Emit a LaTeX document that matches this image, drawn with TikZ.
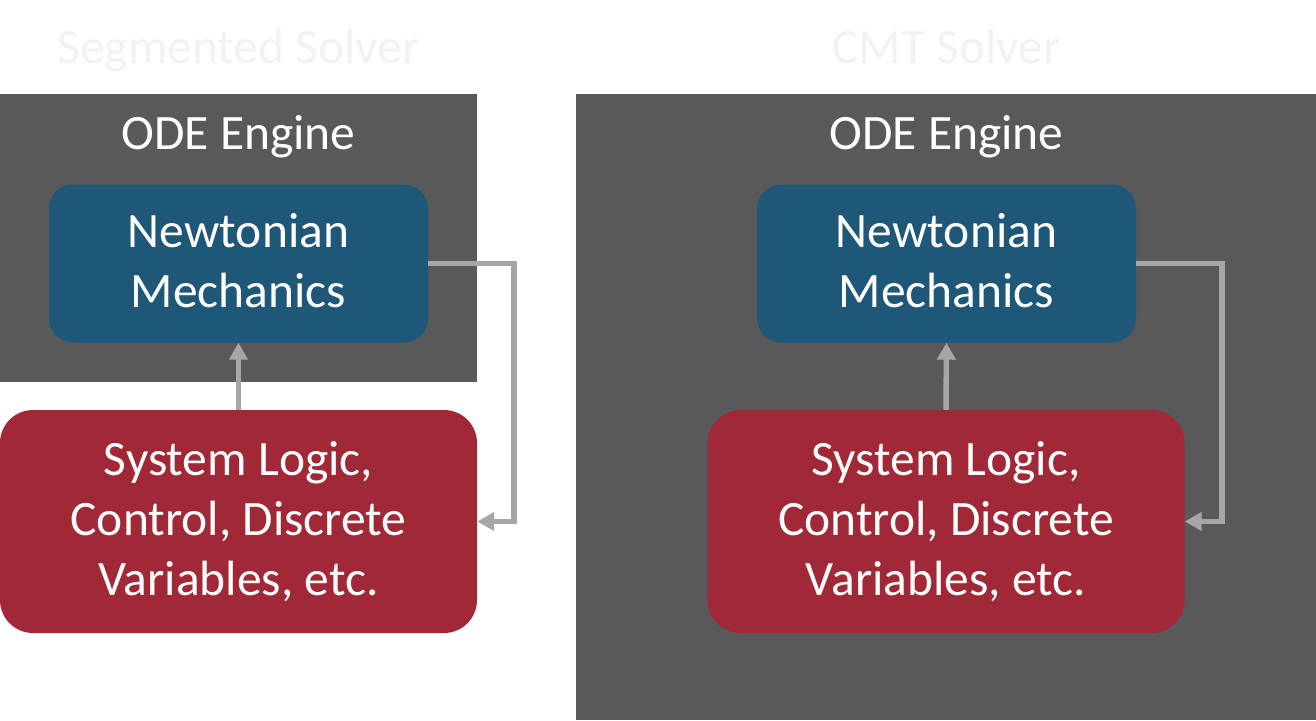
\documentclass[tikz,border=0pt]{standalone}
\usepackage{fontspec}
\setmainfont{Carlito}
\usetikzlibrary{arrows.meta}
\definecolor{panelgray}{HTML}{595959}
\definecolor{mechblue}{HTML}{1F5779}
\definecolor{logicred}{HTML}{A12837}
\definecolor{arrowgray}{HTML}{A6A6A6}
\definecolor{titlegray}{HTML}{F2F2F2}
\tikzset{
  bigtext/.style={font=\fontsize{49.5}{60}\selectfont, text=white, align=center},
  panel/.style={fill=panelgray, draw=none, inner sep=0pt, anchor=north west},
  mechbox/.style={bigtext, fill=mechblue, rounded corners=24pt, inner sep=0pt,
    minimum width=379pt, minimum height=158pt},
  logicbox/.style={bigtext, fill=logicred, rounded corners=33pt, inner sep=0pt,
    minimum width=477pt, minimum height=223pt},
  solvertitle/.style={font=\fontsize{49.5}{60}\selectfont, text=titlegray, anchor=base},
  enginetitle/.style={font=\fontsize{49.5}{60}\selectfont, text=white, anchor=base},
  flow/.style={draw=arrowgray, line width=5.5pt,
    -{Triangle[length=17pt,width=18pt]}},
}
\begin{document}
\begin{tikzpicture}[x=1pt,y=-1pt]
\useasboundingbox (0,0) rectangle (1316,720);
% panels
\node[panel, minimum width=477pt, minimum height=288pt] (lpanel) at (0,94) {};
\node[panel, minimum width=740pt, minimum height=626pt] (rpanel) at (576,94) {};
% titles
\node[solvertitle] (ltitle) at (238.5,63) {Segmented Solver};
\node[solvertitle] (rtitle) at (946.5,63) {CMT Solver};
\node[enginetitle] (lode) at (238.5,149) {ODE Engine};
\node[enginetitle] (rode) at (946.5,149) {ODE Engine};
% left boxes
\node[mechbox] (lmech) at (238.5,263.5) {Newtonian\\Mechanics\rule[-6pt]{0pt}{0pt}};
\node[logicbox] (llogic) at (238.5,521.5) {System Logic,\\Control, Discrete\\Variables, etc.};
% right boxes
\node[mechbox] (rmech) at (946.5,263.5) {Newtonian\\Mechanics\rule[-6pt]{0pt}{0pt}};
\node[logicbox] (rlogic) at (946,521.5) {System Logic,\\Control, Discrete\\Variables, etc.};
% connectors
\draw[flow] (llogic.north) -- (lmech.south);
\draw[flow] (lmech.east) -- ++(86,0) |- (llogic.east);
\draw[flow] (rlogic.north) -- (rmech.south);
\draw[flow] (rmech.east) -- ++(86,0) |- (rlogic.east);
\end{tikzpicture}
\end{document}
